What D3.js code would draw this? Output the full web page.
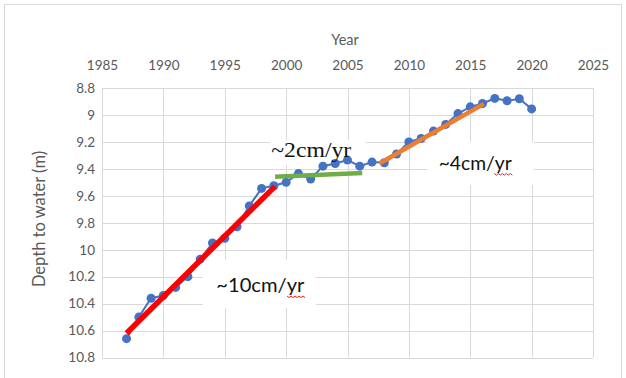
<!DOCTYPE html>
<html><head><meta charset="utf-8">
<script src="https://cdn.jsdelivr.net/npm/d3@7/dist/d3.min.js"></script>
<style>body{margin:0;background:#fff}svg{display:block}</style>
</head><body>
<svg id="c" width="626" height="378"></svg>
<script>
const years = [1987,1988,1989,1990,1991,1992,1993,1994,1995,1996,1997,1998,1999,2000,2001,2002,2003,2004,2005,2006,2007,2008,2009,2010,2011,2012,2013,2014,2015,2016,2017,2018,2019,2020];
const depth = [10.66,10.50,10.36,10.34,10.28,10.20,10.07,9.95,9.915,9.83,9.675,9.545,9.525,9.50,9.435,9.475,9.38,9.36,9.335,9.38,9.35,9.355,9.29,9.20,9.175,9.12,9.07,8.99,8.94,8.915,8.877,8.895,8.88,8.955];
const xTicks = [1985,1990,1995,2000,2005,2010,2015,2020,2025];
const yTicks = [8.8,9,9.2,9.4,9.6,9.8,10,10.2,10.4,10.6,10.8];
const trends = [
  {name:"~10cm/yr", x:[1987,1999.1], y:[10.62,9.53], color:"#ff0000"},
  {name:"~2cm/yr", x:[1999.1,2006.2], y:[9.458,9.43], color:"#70ad47"},
  {name:"~4cm/yr", x:[2007.6,2016.1], y:[9.36,8.918], color:"#ed7d31"}
];
const labels = [
  {text:"~10cm/yr", x:1997.9, y:10.314, font:"Lato, 'Open Sans', sans-serif", size:20, len:88, box:[1993.2,10.076,9.2,0.357], wavy:true},
  {text:"~4cm/yr", x:2015.4, y:9.405, font:"Lato, 'Open Sans', sans-serif", size:20, len:73, box:[2011.5,9.20,8.7,0.32], wavy:true},
  {text:"~2cm/yr", x:2002.05, y:9.31, font:"'Liberation Serif', 'DejaVu Serif', serif", size:21, len:80, box:[1998.7,9.186,7.8,0.184], wavy:false}
];

const svg = d3.select("#c");
svg.append("rect").attr("x",4.5).attr("y",4.5).attr("width",617).attr("height",390)
  .attr("fill","#fff").attr("stroke","#d9d9d9");

const x = d3.scaleLinear().domain([1985,2025]).range([102,593]);
const y = d3.scaleLinear().domain([8.8,10.8]).range([88,357.5]);

const g = svg.append("g");
g.selectAll(".vg").data(xTicks).join("line")
  .attr("x1",d=>Math.round(x(d))+0.5).attr("x2",d=>Math.round(x(d))+0.5)
  .attr("y1",y(8.8)).attr("y2",y(10.8)).attr("stroke","#d9d9d9").attr("stroke-width",1);
g.selectAll(".hg").data(yTicks).join("line")
  .attr("y1",d=>Math.round(y(d))+0.5).attr("y2",d=>Math.round(y(d))+0.5)
  .attr("x1",x(1985)).attr("x2",x(2025)).attr("stroke","#d9d9d9").attr("stroke-width",1);

const xAxis = d3.axisTop(x).tickValues(xTicks).tickFormat(d3.format("d")).tickSize(0).tickPadding(0);
const ax = svg.append("g").attr("transform","translate(0,70)").call(xAxis);
ax.select(".domain").remove();
ax.selectAll("text").attr("fill","#595959").style("font-family","Lato, 'Open Sans', sans-serif").style("font-size","13.5px");

const yAxis = d3.axisLeft(y).tickValues(yTicks).tickFormat(d=>d3.format("")(+d.toFixed(1))).tickSize(0).tickPadding(0);
const ay = svg.append("g").attr("transform","translate(95,0)").call(yAxis);
ay.select(".domain").remove();
ay.selectAll("text").attr("fill","#595959").style("font-family","Lato, 'Open Sans', sans-serif").style("font-size","13.5px");

svg.append("text").attr("x",345).attr("y",45).attr("text-anchor","middle")
  .attr("fill","#595959").style("font-family","Lato, 'Open Sans', sans-serif").style("font-size","14.5px").text("Year");
svg.append("text").attr("transform","translate(45,219) rotate(-90)").attr("text-anchor","middle")
  .attr("fill","#595959").style("font-family","Lato, 'Open Sans', sans-serif").style("font-size","16.5px").text("Depth to water (m)");

labels.forEach(l=>{
  const [bx,by,bw,bh]=l.box;
  svg.append("rect").attr("x",x(bx)).attr("y",y(by)).attr("width",x(bx+bw)-x(bx)).attr("height",y(by+bh)-y(by)).attr("fill","#fff");
});

const pts = years.map((yr,i)=>[yr,depth[i]]);
svg.append("path").datum(pts).attr("fill","none").attr("stroke","#4472c4").attr("stroke-width",2)
  .attr("d",d3.line().x(d=>x(d[0])).y(d=>y(d[1])));
svg.selectAll(".pt").data(pts).join("circle").attr("cx",d=>x(d[0])).attr("cy",d=>y(d[1])).attr("r",4.5).attr("fill","#4472c4");

trends.forEach((t,i)=>{
  svg.append("line").attr("x1",x(t.x[0])).attr("y1",y(t.y[0])).attr("x2",x(t.x[1])).attr("y2",y(t.y[1]))
    .attr("stroke",t.color).attr("stroke-width",i===0?5.5:4.5);
});

labels.forEach(l=>{
  const t = svg.append("text").attr("x",x(l.x)).attr("y",y(l.y)).attr("text-anchor","middle")
    .attr("textLength",l.len).attr("lengthAdjust","spacingAndGlyphs")
    .attr("fill","#111").style("font-family",l.font).style("font-size",l.size+"px").text(l.text);
  if(l.wavy){
    const bb = t.node().getBBox();
    const x1 = bb.x+bb.width-18, x0 = bb.x+bb.width-1, yy = y(l.y)+4;
    let d = "M"+x1+","+yy;
    for(let xx=x1, k=0; xx<x0; xx+=2, k++) d += " L"+(xx+2)+","+(yy+(k%2?0:1.6));
    svg.append("path").attr("d",d).attr("fill","none").attr("stroke","#e00").attr("stroke-width",0.9);
  }
});
</script>
</body></html>
